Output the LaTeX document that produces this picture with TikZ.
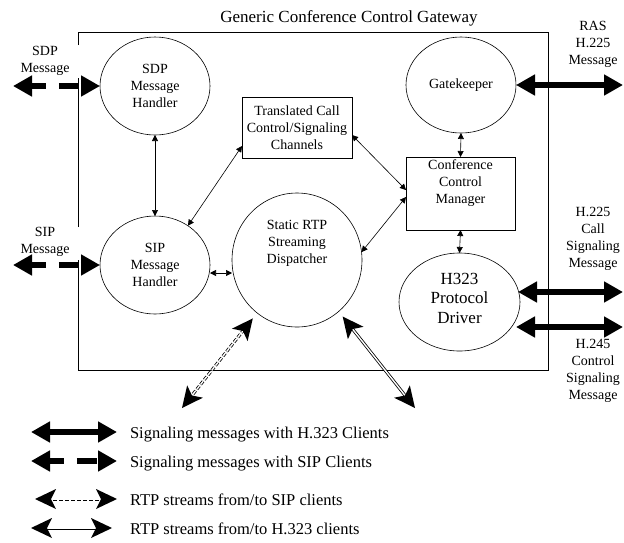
\documentclass[tikz,border=0pt]{standalone}
\usepackage{fontspec}
\setmainfont{Liberation Serif}
\usetikzlibrary{arrows.meta,shapes.geometric,calc}
% filled stealth-like head: apex at #1, pointing away from #2
\newcommand{\rtphead}[2]{%
  \fill (#1) -- ($(#1)!21pt!(#2)!10pt!90:(#1)$) -- ($(#1)!16pt!(#2)$) -- ($(#1)!21pt!(#2)!10pt!-90:(#1)$) -- cycle;}
\begin{document}
\begin{tikzpicture}[x=1pt,y=-1pt,
  every node/.style={inner sep=0pt, outer sep=0pt},
  txt/.style={align=center, font=\fontsize{14}{17}\selectfont},
  bigtxt/.style={align=center, font=\fontsize{17}{19.5}\selectfont},
  legtxt/.style={font=\fontsize{16.5}{20}\selectfont, anchor=base west},
  oval/.style={draw, ellipse, line width=0.6pt},
  box/.style={draw, rectangle, line width=0.6pt},
  link/.style={line width=0.6pt, {Triangle[length=6pt,width=6pt]}-{Triangle[length=6pt,width=6pt]}},
  sigline/.style={line width=5.5pt, {Triangle[length=19pt,width=20pt]}-{Triangle[length=19pt,width=20pt]}},
  sigdash/.style={sigline, dash pattern=on 15pt off 13pt on 20pt off 2pt},
  rtpsip/.style={double, line width=0.8pt, double distance=1.4pt, dash pattern=on 4pt off 2pt, shorten <=12pt, shorten >=12pt},
  rtph/.style={double, line width=0.8pt, double distance=1.4pt, shorten <=12pt, shorten >=12pt}
]
\useasboundingbox (0,0) rectangle (624,542);

% title and gateway frame
\node[font=\fontsize{17}{20}\selectfont, anchor=base] (title) at (349,22) {Generic Conference Control Gateway};
\draw[line width=0.7pt] (78,45) -- (78,32) -- (548,32) -- (548,370) -- (78,370) -- (78,260);
\draw[line width=0.7pt] (78,227) -- (78,78);

% nodes
\node[oval, txt, minimum width=110pt, minimum height=98pt] (sdp) at (155,86) {SDP\\Message\\Handler};
\node[oval, txt, minimum width=110pt, minimum height=98pt] (sip) at (155,265) {SIP\\Message\\Handler};
\node[oval, txt, minimum width=110pt, minimum height=96pt] (gk) at (461,85) {Gatekeeper};
\node[oval, minimum width=121pt, minimum height=98pt] (h323) at (459.5,302) {};
\node[bigtxt] (h323text) at (459.5,298) {H323\\Protocol\\Driver};
\node[oval, minimum width=130pt, minimum height=134pt] (rtp) at (297,260) {};
\node[txt] (rtptext) at (297,243) {Static RTP\\Streaming\\Dispatcher};
\node[box, txt, minimum width=110pt, minimum height=61pt] (trans) at (297,127.5) {Translated Call\\Control/Signaling\\Channels};
\node[box, minimum width=109pt, minimum height=73pt] (ccm) at (460.5,193.5) {};
\node[txt] (ccmtext) at (460.5,183) {Conference\\Control\\Manager};

% side labels
\node[txt] (sdplab) at (45,61) {SDP\\Message};
\node[txt] (siplab) at (45,242) {SIP\\Message};
\node[txt] (raslab) at (593,44) {RAS\\H.225\\Message};
\node[txt] (h225lab) at (593,238.5) {H.225\\Call\\Signaling\\Message};
\node[txt] (h245lab) at (593,371) {H.245\\Control\\Signaling\\Message};

% internal links
\draw[link] (sdp.south) -- (sip.north);
\draw[link] (sip.50) -- ([yshift=12pt]trans.south west);
\draw[link] ([yshift=-7.5pt]trans.east) -- ([yshift=3.5pt]ccm.west);
\draw[link] (rtp.7) -- ([yshift=-3.5pt]ccm.west);
\draw[link] ([yshift=-8pt]sip.east) -- ([yshift=-13pt]rtp.west);
\draw[link] (gk.south) -- (ccm.north);
\draw[link] (ccm.south) -- (h323.north);

% external signalling
\coordinate (sdpout) at (13,86);
\coordinate (sipout) at (13,265);
\coordinate (rasout) at (623,86);
\coordinate (h225out) at (623,292);
\coordinate (h245out) at (623,327);
\draw[sigdash] (sdpout) -- (sdp.west);
\draw[sigdash] (sipout) -- (sip.west);
\draw[sigline] (gk.east) -- (rasout |- gk.east);
\draw[sigline] ([yshift=10pt,xshift=-2pt]h323.east) -- (h225out);
\draw[sigline] ([yshift=-25pt,xshift=-4pt]h323.east) -- (h245out);

% RTP streams
\coordinate (sipstream) at (182,408);
\coordinate (h323stream) at (415,408);
\coordinate (sipend) at ($(rtp.233)!7pt!(sipstream)$);
\coordinate (h323end) at ($(rtp.-51)!6.5pt!(h323stream)$);
\draw[rtpsip] (sipstream) -- (sipend);
\rtphead{sipstream}{sipend}
\rtphead{sipend}{sipstream}
\draw[rtph] (h323end) -- (h323stream);
\rtphead{h323end}{h323stream}
\rtphead{h323stream}{h323end}

% legend
\coordinate (l1a) at (31,432); \coordinate (l1b) at (117,432);
\coordinate (l2a) at (31,461); \coordinate (l2b) at (117,461);
\coordinate (l3a) at (35,499); \coordinate (l3b) at (117,499);
\coordinate (l4a) at (31,528); \coordinate (l4b) at (112,528);
\draw[sigline] (l1a) -- (l1b);
\draw[sigdash] (l2a) -- (l2b);
\draw[rtpsip] (l3a) -- (l3b);
\rtphead{l3a}{l3b}
\rtphead{l3b}{l3a}
\draw[rtph] (l4a) -- (l4b);
\rtphead{l4a}{l4b}
\rtphead{l4b}{l4a}
\node[legtxt] (leg1) at (130,438) {Signaling messages with H.323 Clients};
\node[legtxt] (leg2) at (130,467) {Signaling messages with SIP Clients};
\node[legtxt] (leg3) at (130,505) {RTP streams from/to SIP clients};
\node[legtxt] (leg4) at (130,534) {RTP streams from/to H.323 clients};
\end{tikzpicture}
\end{document}
